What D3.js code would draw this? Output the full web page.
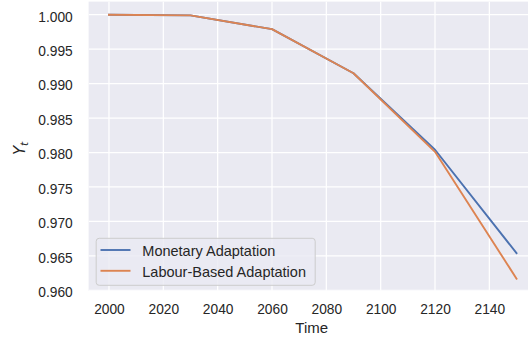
<!DOCTYPE html>
<html>
<head>
<meta charset="utf-8">
<script src="https://cdn.jsdelivr.net/npm/d3@7"></script>
<style>
    body { margin: 0; background: #fff; }
    svg { display: block; font-family: "Liberation Sans", Arial, sans-serif; }
</style>
</head>
<body>
<svg id="chart"></svg>
<script>
// data
const years = [2000, 2030, 2060, 2090, 2120, 2150];
const monetary = [1.0000, 0.9999, 0.9979, 0.9915, 0.9804, 0.9654];
const labourBased = [1.0000, 0.9999, 0.9979, 0.9915, 0.9801, 0.9617];
const seriesNames = ["Monetary Adaptation", "Labour-Based Adaptation"];
const xTicks = [2000, 2020, 2040, 2060, 2080, 2100, 2120, 2140];
const yTicks = [0.960, 0.965, 0.970, 0.975, 0.980, 0.985, 0.990, 0.995, 1.000];

class LinePlot {
    constructor(_config, _series) {
        this.config = {
            parentElement: _config.parentElement,
            containerWidth: _config.containerWidth || 528,
            containerHeight: _config.containerHeight || 341,
            // plot area runs a bit past the right edge of the picture
            plot: _config.plot || {left: 88.6, right: 536.9, top: 1.6, bottom: 290.7}
        };
        this.series = _series;
        this.initVis();
    }

    initVis() {
        let vis = this;
        const p = vis.config.plot;

        // matplotlib style 5% margins around the data
        vis.xScale = d3.scaleLinear()
            .domain([1992.5, 2157.5])
            .range([p.left, p.right]);

        vis.yScale = d3.scaleLinear()
            .domain([0.95995, 1.0019])
            .range([p.bottom, p.top]);

        vis.svg = d3.select(vis.config.parentElement)
            .attr('width', vis.config.containerWidth)
            .attr('height', vis.config.containerHeight);

        vis.svg.append('defs').append('clipPath')
            .attr('id', 'plot-clip')
            .append('rect')
            .attr('x', p.left)
            .attr('y', p.top)
            .attr('width', p.right - p.left)
            .attr('height', p.bottom - p.top);

        vis.svg.append('rect')
            .attr('x', p.left)
            .attr('y', p.top)
            .attr('width', p.right - p.left)
            .attr('height', p.bottom - p.top)
            .attr('fill', '#EAEAF2');

        vis.renderVis();
    }

    renderVis() {
        let vis = this;
        const p = vis.config.plot;
        const grid = vis.svg.append('g').attr('clip-path', 'url(#plot-clip)');

        // white grid
        grid.selectAll('.vgrid')
            .data(xTicks)
            .join('line')
            .attr('class', 'vgrid')
            .attr('x1', d => vis.xScale(d))
            .attr('x2', d => vis.xScale(d))
            .attr('y1', p.top)
            .attr('y2', p.bottom)
            .attr('stroke', '#fff')
            .attr('stroke-width', 1.25);

        grid.selectAll('.hgrid')
            .data(yTicks)
            .join('line')
            .attr('class', 'hgrid')
            .attr('x1', p.left)
            .attr('x2', p.right)
            .attr('y1', d => vis.yScale(d))
            .attr('y2', d => vis.yScale(d))
            .attr('stroke', '#fff')
            .attr('stroke-width', 1.25);

        // axes (no ticks, no spines)
        const xAxis = d3.axisBottom(vis.xScale)
            .tickValues(xTicks)
            .tickFormat(d3.format('d'))
            .tickSize(0)
            .tickPadding(14);

        const yAxis = d3.axisLeft(vis.yScale)
            .tickValues(yTicks)
            .tickFormat(d3.format('.3f'))
            .tickSize(0)
            .tickPadding(15.9);

        const xAxisG = vis.svg.append('g')
            .attr('transform', `translate(0,${p.bottom})`)
            .call(xAxis);
        const yAxisG = vis.svg.append('g')
            .attr('transform', `translate(${p.left},0)`)
            .call(yAxis);

        [xAxisG, yAxisG].forEach(g => {
            g.select('.domain').remove();
            g.selectAll('text')
                .attr('fill', '#262626')
                .style('font-size', '13.75px')
                .style('font-family', '"Liberation Sans", Arial, sans-serif');
        });
        yAxisG.selectAll('text').attr('dy', '0.46em');

        // lines
        const line = d3.line()
            .x((d, i) => vis.xScale(years[i]))
            .y(d => vis.yScale(d));

        grid.selectAll('.series')
            .data(vis.series)
            .join('path')
            .attr('class', 'series')
            .attr('d', d => line(d.values))
            .attr('fill', 'none')
            .attr('stroke', d => d.color)
            .attr('stroke-width', 1.9)
            .attr('stroke-linejoin', 'round')
            .attr('stroke-linecap', 'square');

        // axis labels
        vis.svg.append('text')
            .attr('x', (p.left + p.right) / 2 - 1)
            .attr('y', 333.3)
            .attr('text-anchor', 'middle')
            .attr('fill', '#262626')
            .style('font-size', '15px')
            .text('Time');

        const yLabel = vis.svg.append('text')
            .attr('transform', 'translate(24.5,148.4) rotate(-90)')
            .attr('text-anchor', 'middle')
            .attr('fill', '#262626')
            .style('font-size', '15px')
            .style('font-family', '"DejaVu Sans", sans-serif')
            .style('font-style', 'italic');
        yLabel.append('tspan').text('Y');
        yLabel.append('tspan')
            .attr('dy', 3)
            .style('font-size', '10.5px')
            .text('t');

        // legend
        const legend = vis.svg.append('g');
        legend.append('rect')
            .attr('x', 96.2)
            .attr('y', 238.3)
            .attr('width', 219)
            .attr('height', 47)
            .attr('rx', 3)
            .attr('fill', '#EAEAF2')
            .attr('fill-opacity', 0.8)
            .attr('stroke', '#cccccc')
            .attr('stroke-width', 1);

        const items = legend.selectAll('.item')
            .data(vis.series)
            .join('g')
            .attr('class', 'item')
            .attr('transform', (d, i) => `translate(0,${250 + i * 20.8})`);

        items.append('line')
            .attr('x1', 100.5)
            .attr('x2', 130.5)
            .attr('stroke', d => d.color)
            .attr('stroke-width', 1.9);

        items.append('text')
            .attr('x', 142.3)
            .attr('y', 6)
            .attr('fill', '#262626')
            .style('font-size', '14.5px')
            .text(d => d.name);
    }
}

new LinePlot({parentElement: '#chart'}, [
    {name: seriesNames[0], values: monetary, color: '#4C72B0'},
    {name: seriesNames[1], values: labourBased, color: '#DD8452'}
]);
</script>
</body>
</html>
